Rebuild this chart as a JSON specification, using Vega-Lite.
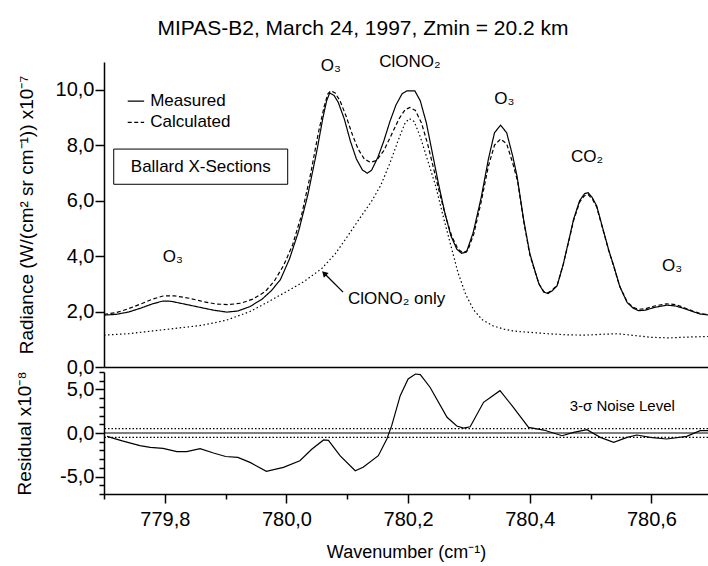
{
  "$schema": "https://vega.github.io/schema/vega-lite/v6.json",
  "padding": {"left": 15, "top": 18, "right": 0, "bottom": 8},
  "background": "white",
  "title": {"text": "MIPAS-B2, March 24, 1997, Zmin = 20.2 km", "fontSize": 21, "fontWeight": "normal", "font": "Liberation Sans", "color": "black", "anchor": "middle", "offset": 14},
  "spacing": 5,
  "bounds": "flush",
  "config": {
    "view": {"stroke": null},
    "font": "Liberation Sans",
    "axis": {"domainColor": "black", "tickColor": "black", "labelColor": "black", "titleColor": "black", "grid": false, "titleFontWeight": "normal", "labelFont": "Liberation Sans", "titleFont": "Liberation Sans", "labelFontSize": 20, "titleFontSize": 19, "domainWidth": 1.5, "tickWidth": 1.5, "labelOverlap": false}
  },
  "datasets": {
    "spectra": [
      {"wn":779.700,"value":1.87,"series":"Measured"},{"wn":779.720,"value":1.90,"series":"Measured"},{"wn":779.740,"value":1.98,"series":"Measured"},{"wn":779.760,"value":2.12,"series":"Measured"},{"wn":779.780,"value":2.28,"series":"Measured"},{"wn":779.797,"value":2.38,"series":"Measured"},{"wn":779.810,"value":2.37,"series":"Measured"},{"wn":779.830,"value":2.28,"series":"Measured"},{"wn":779.858,"value":2.15,"series":"Measured"},{"wn":779.880,"value":2.05,"series":"Measured"},{"wn":779.902,"value":1.98,"series":"Measured"},{"wn":779.920,"value":2.02,"series":"Measured"},{"wn":779.940,"value":2.18,"series":"Measured"},{"wn":779.960,"value":2.45,"series":"Measured"},{"wn":779.975,"value":2.75,"series":"Measured"},{"wn":779.990,"value":3.15,"series":"Measured"},{"wn":780.005,"value":3.90,"series":"Measured"},{"wn":780.020,"value":4.90,"series":"Measured"},{"wn":780.035,"value":6.20,"series":"Measured"},{"wn":780.050,"value":7.80,"series":"Measured"},{"wn":780.060,"value":9.00,"series":"Measured"},{"wn":780.066,"value":9.60,"series":"Measured"},{"wn":780.071,"value":9.88,"series":"Measured"},{"wn":780.078,"value":9.80,"series":"Measured"},{"wn":780.085,"value":9.55,"series":"Measured"},{"wn":780.095,"value":8.95,"series":"Measured"},{"wn":780.105,"value":8.15,"series":"Measured"},{"wn":780.115,"value":7.50,"series":"Measured"},{"wn":780.125,"value":7.10,"series":"Measured"},{"wn":780.133,"value":6.99,"series":"Measured"},{"wn":780.140,"value":7.10,"series":"Measured"},{"wn":780.150,"value":7.55,"series":"Measured"},{"wn":780.160,"value":8.15,"series":"Measured"},{"wn":780.170,"value":8.85,"series":"Measured"},{"wn":780.180,"value":9.45,"series":"Measured"},{"wn":780.190,"value":9.85,"series":"Measured"},{"wn":780.198,"value":9.96,"series":"Measured"},{"wn":780.211,"value":9.96,"series":"Measured"},{"wn":780.220,"value":9.60,"series":"Measured"},{"wn":780.230,"value":8.80,"series":"Measured"},{"wn":780.240,"value":7.70,"series":"Measured"},{"wn":780.250,"value":6.60,"series":"Measured"},{"wn":780.260,"value":5.60,"series":"Measured"},{"wn":780.270,"value":4.75,"series":"Measured"},{"wn":780.280,"value":4.25,"series":"Measured"},{"wn":780.288,"value":4.10,"series":"Measured"},{"wn":780.296,"value":4.15,"series":"Measured"},{"wn":780.307,"value":4.85,"series":"Measured"},{"wn":780.320,"value":6.10,"series":"Measured"},{"wn":780.332,"value":7.50,"series":"Measured"},{"wn":780.342,"value":8.45,"series":"Measured"},{"wn":780.352,"value":8.72,"series":"Measured"},{"wn":780.362,"value":8.45,"series":"Measured"},{"wn":780.372,"value":7.60,"series":"Measured"},{"wn":780.379,"value":6.89,"series":"Measured"},{"wn":780.390,"value":5.30,"series":"Measured"},{"wn":780.400,"value":4.10,"series":"Measured"},{"wn":780.406,"value":3.65,"series":"Measured"},{"wn":780.415,"value":3.00,"series":"Measured"},{"wn":780.423,"value":2.70,"series":"Measured"},{"wn":780.430,"value":2.65,"series":"Measured"},{"wn":780.437,"value":2.75,"series":"Measured"},{"wn":780.445,"value":2.93,"series":"Measured"},{"wn":780.455,"value":3.70,"series":"Measured"},{"wn":780.465,"value":4.65,"series":"Measured"},{"wn":780.472,"value":5.33,"series":"Measured"},{"wn":780.482,"value":6.00,"series":"Measured"},{"wn":780.490,"value":6.25,"series":"Measured"},{"wn":780.496,"value":6.29,"series":"Measured"},{"wn":780.503,"value":6.10,"series":"Measured"},{"wn":780.510,"value":5.81,"series":"Measured"},{"wn":780.520,"value":5.00,"series":"Measured"},{"wn":780.530,"value":4.20,"series":"Measured"},{"wn":780.538,"value":3.65,"series":"Measured"},{"wn":780.548,"value":2.90,"series":"Measured"},{"wn":780.560,"value":2.33,"series":"Measured"},{"wn":780.570,"value":2.12,"series":"Measured"},{"wn":780.579,"value":2.03,"series":"Measured"},{"wn":780.590,"value":2.05,"series":"Measured"},{"wn":780.605,"value":2.15,"series":"Measured"},{"wn":780.625,"value":2.23,"series":"Measured"},{"wn":780.640,"value":2.20,"series":"Measured"},{"wn":780.655,"value":2.10,"series":"Measured"},{"wn":780.668,"value":2.00,"series":"Measured"},{"wn":780.680,"value":1.91,"series":"Measured"},{"wn":780.693,"value":1.88,"series":"Measured"},
      {"wn":779.700,"value":1.90,"series":"Calculated"},{"wn":779.720,"value":1.96,"series":"Calculated"},{"wn":779.740,"value":2.10,"series":"Calculated"},{"wn":779.760,"value":2.27,"series":"Calculated"},{"wn":779.780,"value":2.45,"series":"Calculated"},{"wn":779.797,"value":2.56,"series":"Calculated"},{"wn":779.815,"value":2.57,"series":"Calculated"},{"wn":779.840,"value":2.48,"series":"Calculated"},{"wn":779.865,"value":2.35,"series":"Calculated"},{"wn":779.885,"value":2.27,"series":"Calculated"},{"wn":779.905,"value":2.25,"series":"Calculated"},{"wn":779.925,"value":2.30,"series":"Calculated"},{"wn":779.945,"value":2.45,"series":"Calculated"},{"wn":779.965,"value":2.72,"series":"Calculated"},{"wn":779.980,"value":3.10,"series":"Calculated"},{"wn":779.995,"value":3.65,"series":"Calculated"},{"wn":780.010,"value":4.40,"series":"Calculated"},{"wn":780.025,"value":5.50,"series":"Calculated"},{"wn":780.040,"value":7.00,"series":"Calculated"},{"wn":780.052,"value":8.40,"series":"Calculated"},{"wn":780.062,"value":9.40,"series":"Calculated"},{"wn":780.068,"value":9.85,"series":"Calculated"},{"wn":780.073,"value":9.96,"series":"Calculated"},{"wn":780.080,"value":9.88,"series":"Calculated"},{"wn":780.088,"value":9.60,"series":"Calculated"},{"wn":780.098,"value":9.05,"series":"Calculated"},{"wn":780.108,"value":8.40,"series":"Calculated"},{"wn":780.118,"value":7.85,"series":"Calculated"},{"wn":780.128,"value":7.50,"series":"Calculated"},{"wn":780.138,"value":7.38,"series":"Calculated"},{"wn":780.148,"value":7.45,"series":"Calculated"},{"wn":780.160,"value":7.80,"series":"Calculated"},{"wn":780.172,"value":8.35,"series":"Calculated"},{"wn":780.185,"value":8.95,"series":"Calculated"},{"wn":780.195,"value":9.28,"series":"Calculated"},{"wn":780.203,"value":9.36,"series":"Calculated"},{"wn":780.212,"value":9.25,"series":"Calculated"},{"wn":780.222,"value":8.80,"series":"Calculated"},{"wn":780.232,"value":8.05,"series":"Calculated"},{"wn":780.242,"value":7.15,"series":"Calculated"},{"wn":780.252,"value":6.25,"series":"Calculated"},{"wn":780.262,"value":5.40,"series":"Calculated"},{"wn":780.272,"value":4.70,"series":"Calculated"},{"wn":780.282,"value":4.25,"series":"Calculated"},{"wn":780.290,"value":4.12,"series":"Calculated"},{"wn":780.298,"value":4.20,"series":"Calculated"},{"wn":780.308,"value":4.80,"series":"Calculated"},{"wn":780.320,"value":5.95,"series":"Calculated"},{"wn":780.332,"value":7.25,"series":"Calculated"},{"wn":780.342,"value":8.00,"series":"Calculated"},{"wn":780.352,"value":8.22,"series":"Calculated"},{"wn":780.362,"value":8.05,"series":"Calculated"},{"wn":780.372,"value":7.35,"series":"Calculated"},{"wn":780.380,"value":6.70,"series":"Calculated"},{"wn":780.390,"value":5.25,"series":"Calculated"},{"wn":780.400,"value":4.05,"series":"Calculated"},{"wn":780.406,"value":3.62,"series":"Calculated"},{"wn":780.415,"value":3.00,"series":"Calculated"},{"wn":780.423,"value":2.72,"series":"Calculated"},{"wn":780.430,"value":2.68,"series":"Calculated"},{"wn":780.437,"value":2.78,"series":"Calculated"},{"wn":780.445,"value":2.95,"series":"Calculated"},{"wn":780.455,"value":3.70,"series":"Calculated"},{"wn":780.465,"value":4.62,"series":"Calculated"},{"wn":780.472,"value":5.28,"series":"Calculated"},{"wn":780.482,"value":5.95,"series":"Calculated"},{"wn":780.490,"value":6.18,"series":"Calculated"},{"wn":780.496,"value":6.22,"series":"Calculated"},{"wn":780.503,"value":6.05,"series":"Calculated"},{"wn":780.510,"value":5.77,"series":"Calculated"},{"wn":780.520,"value":4.98,"series":"Calculated"},{"wn":780.530,"value":4.18,"series":"Calculated"},{"wn":780.538,"value":3.63,"series":"Calculated"},{"wn":780.548,"value":2.90,"series":"Calculated"},{"wn":780.560,"value":2.35,"series":"Calculated"},{"wn":780.570,"value":2.15,"series":"Calculated"},{"wn":780.579,"value":2.08,"series":"Calculated"},{"wn":780.590,"value":2.10,"series":"Calculated"},{"wn":780.605,"value":2.20,"series":"Calculated"},{"wn":780.625,"value":2.28,"series":"Calculated"},{"wn":780.640,"value":2.25,"series":"Calculated"},{"wn":780.655,"value":2.13,"series":"Calculated"},{"wn":780.668,"value":2.02,"series":"Calculated"},{"wn":780.680,"value":1.93,"series":"Calculated"},{"wn":780.693,"value":1.89,"series":"Calculated"},
      {"wn":779.700,"value":1.15,"series":"ClONO2 only"},{"wn":779.740,"value":1.20,"series":"ClONO2 only"},{"wn":779.780,"value":1.30,"series":"ClONO2 only"},{"wn":779.820,"value":1.40,"series":"ClONO2 only"},{"wn":779.860,"value":1.50,"series":"ClONO2 only"},{"wn":779.900,"value":1.68,"series":"ClONO2 only"},{"wn":779.940,"value":2.00,"series":"ClONO2 only"},{"wn":779.970,"value":2.35,"series":"ClONO2 only"},{"wn":780.000,"value":2.72,"series":"ClONO2 only"},{"wn":780.030,"value":3.10,"series":"ClONO2 only"},{"wn":780.058,"value":3.55,"series":"ClONO2 only"},{"wn":780.080,"value":4.08,"series":"ClONO2 only"},{"wn":780.100,"value":4.70,"series":"ClONO2 only"},{"wn":780.120,"value":5.35,"series":"ClONO2 only"},{"wn":780.140,"value":5.98,"series":"ClONO2 only"},{"wn":780.155,"value":6.55,"series":"ClONO2 only"},{"wn":780.170,"value":7.35,"series":"ClONO2 only"},{"wn":780.185,"value":8.25,"series":"ClONO2 only"},{"wn":780.195,"value":8.80,"series":"ClONO2 only"},{"wn":780.202,"value":8.96,"series":"ClONO2 only"},{"wn":780.210,"value":8.85,"series":"ClONO2 only"},{"wn":780.220,"value":8.30,"series":"ClONO2 only"},{"wn":780.230,"value":7.60,"series":"ClONO2 only"},{"wn":780.245,"value":6.55,"series":"ClONO2 only"},{"wn":780.258,"value":5.40,"series":"ClONO2 only"},{"wn":780.270,"value":4.40,"series":"ClONO2 only"},{"wn":780.282,"value":3.40,"series":"ClONO2 only"},{"wn":780.295,"value":2.60,"series":"ClONO2 only"},{"wn":780.308,"value":2.05,"series":"ClONO2 only"},{"wn":780.322,"value":1.70,"series":"ClONO2 only"},{"wn":780.340,"value":1.48,"series":"ClONO2 only"},{"wn":780.360,"value":1.35,"series":"ClONO2 only"},{"wn":780.380,"value":1.28,"series":"ClONO2 only"},{"wn":780.400,"value":1.25,"series":"ClONO2 only"},{"wn":780.430,"value":1.20,"series":"ClONO2 only"},{"wn":780.460,"value":1.16,"series":"ClONO2 only"},{"wn":780.490,"value":1.15,"series":"ClONO2 only"},{"wn":780.520,"value":1.18,"series":"ClONO2 only"},{"wn":780.545,"value":1.20,"series":"ClONO2 only"},{"wn":780.570,"value":1.14,"series":"ClONO2 only"},{"wn":780.600,"value":1.07,"series":"ClONO2 only"},{"wn":780.630,"value":1.05,"series":"ClONO2 only"},{"wn":780.660,"value":1.08,"series":"ClONO2 only"},{"wn":780.693,"value":1.10,"series":"ClONO2 only"}
    ],
    "residual": [
      {"wn":779.705,"res":-0.38},{"wn":779.730,"res":-0.90},{"wn":779.759,"res":-1.45},{"wn":779.776,"res":-1.65},{"wn":779.797,"res":-1.76},{"wn":779.820,"res":-2.14},{"wn":779.836,"res":-2.14},{"wn":779.858,"res":-1.80},{"wn":779.880,"res":-2.30},{"wn":779.900,"res":-2.70},{"wn":779.920,"res":-2.80},{"wn":779.940,"res":-3.37},{"wn":779.967,"res":-4.40},{"wn":779.995,"res":-3.94},{"wn":780.022,"res":-3.18},{"wn":780.042,"res":-1.84},{"wn":780.061,"res":-0.80},{"wn":780.069,"res":-0.84},{"wn":780.088,"res":-2.60},{"wn":780.113,"res":-4.33},{"wn":780.126,"res":-3.94},{"wn":780.151,"res":-2.60},{"wn":780.165,"res":-0.69},{"wn":780.173,"res":0.84},{"wn":780.187,"res":4.28},{"wn":780.200,"res":6.20},{"wn":780.212,"res":6.77},{"wn":780.220,"res":6.70},{"wn":780.236,"res":5.25},{"wn":780.264,"res":1.80},{"wn":780.280,"res":0.80},{"wn":780.291,"res":0.57},{"wn":780.302,"res":0.72},{"wn":780.324,"res":3.52},{"wn":780.351,"res":4.86},{"wn":780.373,"res":2.95},{"wn":780.398,"res":0.65},{"wn":780.423,"res":0.34},{"wn":780.453,"res":-0.31},{"wn":780.472,"res":0.08},{"wn":780.494,"res":0.38},{"wn":780.516,"res":-0.50},{"wn":780.538,"res":-1.07},{"wn":780.560,"res":-0.50},{"wn":780.576,"res":-0.23},{"wn":780.598,"res":-0.50},{"wn":780.625,"res":-0.69},{"wn":780.658,"res":-0.38},{"wn":780.680,"res":0.27},{"wn":780.693,"res":0.27}
    ]
  },
  "vconcat": [
    {
      "width": 604,
      "height": 305,
      "layer": [
        {
          "data": {"name": "spectra"},
          "mark": {"type": "line", "color": "black", "strokeWidth": 1.2},
          "encoding": {
            "x": {"field": "wn", "type": "quantitative", "scale": {"domain": [779.7, 780.693], "nice": false, "zero": false}, "axis": {"title": null, "labels": false, "ticks": false, "domain": true}},
            "y": {"field": "value", "type": "quantitative", "scale": {"domain": [0, 11], "nice": false, "zero": false},
              "axis": {"title": "Radiance (W/(cm² sr cm⁻¹)) x10⁻⁷", "titlePadding": 19, "values": [0,1,2,3,4,5,6,7,8,9,10,11],
                "labelExpr": "datum.value % 2 === 0 ? replace(format(datum.value, '.1f'), '.', ',') : ''",
                "tickSize": {"condition": {"test": "datum.value % 2 === 0", "value": 9}, "value": 5},
                "labelPadding": 1}},
            "strokeDash": {"field": "series", "type": "nominal", "scale": {"domain": ["Measured", "Calculated", "ClONO2 only"], "range": [[1, 0], [4, 2.5], [1.5, 2.5]]}, "legend": null},
            "detail": {"field": "series"}
          }
        },
        {
          "data": {"values": [{"series": "Measured", "wn1": 779.739, "wn2": 779.766, "v": 9.59}, {"series": "Calculated", "wn1": 779.739, "wn2": 779.766, "v": 8.82}]},
          "mark": {"type": "rule", "color": "black", "strokeWidth": 1.2},
          "encoding": {
            "x": {"field": "wn1", "type": "quantitative"},
            "x2": {"field": "wn2"},
            "y": {"field": "v", "type": "quantitative"},
            "strokeDash": {"field": "series", "type": "nominal", "legend": null}
          }
        },
        {
          "data": {"values": [{"series": "Measured", "wn": 779.766, "v": 9.59}, {"series": "Calculated", "wn": 779.766, "v": 8.82}]},
          "mark": {"type": "text", "align": "left", "baseline": "middle", "dx": 6, "fontSize": 17, "color": "black"},
          "encoding": {
            "x": {"field": "wn", "type": "quantitative"},
            "y": {"field": "v", "type": "quantitative"},
            "text": {"field": "series"}
          }
        },
        {
          "data": {"values": [{"wn1": 779.716, "wn2": 780.002, "v1": 6.59, "v2": 7.86}]},
          "mark": {"type": "rect", "fill": "white", "stroke": "black", "strokeWidth": 1},
          "encoding": {
            "x": {"field": "wn1", "type": "quantitative"},
            "x2": {"field": "wn2"},
            "y": {"field": "v1", "type": "quantitative"},
            "y2": {"field": "v2"}
          }
        },
        {
          "data": {"values": [{"label": "Ballard X-Sections", "wn": 779.859, "v": 7.22}]},
          "mark": {"type": "text", "align": "center", "baseline": "middle", "fontSize": 17, "color": "black"},
          "encoding": {
            "x": {"field": "wn", "type": "quantitative"},
            "y": {"field": "v", "type": "quantitative"},
            "text": {"field": "label"}
          }
        },
        {
          "data": {"values": [{"label": "ClONO₂ only", "wn": 780.101, "v": 2.45}]},
          "mark": {"type": "text", "align": "left", "baseline": "middle", "fontSize": 17, "color": "black"},
          "encoding": {
            "x": {"field": "wn", "type": "quantitative"},
            "y": {"field": "v", "type": "quantitative"},
            "text": {"field": "label"}
          }
        },
        {
          "data": {"values": [
            {"label": "O₃", "wn": 779.813, "v": 3.96},
            {"label": "O₃", "wn": 780.073, "v": 10.85},
            {"label": "ClONO₂", "wn": 780.203, "v": 11.0},
            {"label": "O₃", "wn": 780.358, "v": 9.66},
            {"label": "CO₂", "wn": 780.494, "v": 7.57},
            {"label": "O₃", "wn": 780.634, "v": 3.64}
          ]},
          "mark": {"type": "text", "align": "center", "baseline": "middle", "fontSize": 17, "color": "black"},
          "encoding": {
            "x": {"field": "wn", "type": "quantitative"},
            "y": {"field": "v", "type": "quantitative"},
            "text": {"field": "label"}
          }
        },
        {
          "data": {"values": [{"wn1": 780.093, "v1": 2.70, "wn2": 780.062, "v2": 3.38}]},
          "mark": {"type": "rule", "color": "black", "strokeWidth": 1.3},
          "encoding": {
            "x": {"field": "wn1", "type": "quantitative"},
            "y": {"field": "v1", "type": "quantitative"},
            "x2": {"field": "wn2"},
            "y2": {"field": "v2"}
          }
        },
        {
          "data": {"values": [{"wn": 780.062, "v": 3.38}]},
          "mark": {"type": "point", "shape": "triangle-up", "filled": true, "color": "black", "size": 45, "angle": 315, "opacity": 1},
          "encoding": {
            "x": {"field": "wn", "type": "quantitative"},
            "y": {"field": "v", "type": "quantitative"}
          }
        }
      ]
    },
    {
      "width": 604,
      "height": 122,
      "resolve": {"scale": {"y": "independent"}, "axis": {"y": "independent"}},
      "layer": [
        {
          "data": {"name": "residual"},
          "mark": {"type": "line", "color": "black", "strokeWidth": 1.2},
          "encoding": {
            "x": {"field": "wn", "type": "quantitative", "scale": {"domain": [779.7, 780.693], "nice": false, "zero": false},
              "axis": {"title": "Wavenumber (cm⁻¹)", "titleFontSize": 18, "titlePadding": 14, "values": [779.7,779.8,779.9,780.0,780.1,780.2,780.3,780.4,780.5,780.6],
                "labelExpr": "round(datum.value*10) % 2 === 0 ? replace(format(datum.value, '.1f'), '.', ',') : ''",
                "tickSize": {"condition": {"test": "round(datum.value*10) % 2 === 0", "value": 9}, "value": 5},
                "labelPadding": 6, "labelFlush": false, "labelOverlap": false}},
            "y": {"field": "res", "type": "quantitative", "scale": {"domain": [-7, 7], "nice": false, "zero": false},
              "axis": {"orient": "left", "title": null, "labels": false, "values": [-7,-6,-4,-3,-2,-1,1,2,3,4,6,7], "tickSize": 5, "domain": true}}
          }
        },
        {
          "data": {"values": [{"level": 0.5}, {"level": -0.5}]},
          "mark": {"type": "rule", "color": "black", "strokeWidth": 1.2, "strokeDash": [1.5, 2]},
          "encoding": {"y": {"field": "level", "type": "quantitative", "scale": {"domain": [-7, 7], "nice": false, "zero": false}, "axis": null}}
        },
        {
          "data": {"values": [{"level": 0}]},
          "mark": {"type": "rule", "color": "black", "strokeWidth": 1.2},
          "encoding": {"y": {"field": "level", "type": "quantitative", "scale": {"domain": [-7, 7], "nice": false, "zero": false},
            "axis": {"orient": "left", "title": "Residual x10⁻⁸", "titlePadding": 25, "values": [-5, 0, 5], "tickSize": 9, "domain": false,
              "labelExpr": "replace(replace(format(datum.value, '.1f'), '.', ','), '−', '-')", "labelPadding": 1}}}
        },
        {
          "data": {"values": [{"label": "3-σ Noise Level", "wn": 780.552, "res": 3.13}]},
          "mark": {"type": "text", "align": "center", "baseline": "middle", "fontSize": 15, "color": "black"},
          "encoding": {
            "x": {"field": "wn", "type": "quantitative"},
            "y": {"field": "res", "type": "quantitative", "scale": {"domain": [-7, 7], "nice": false, "zero": false}, "axis": null},
            "text": {"field": "label"}
          }
        }
      ]
    }
  ]
}
